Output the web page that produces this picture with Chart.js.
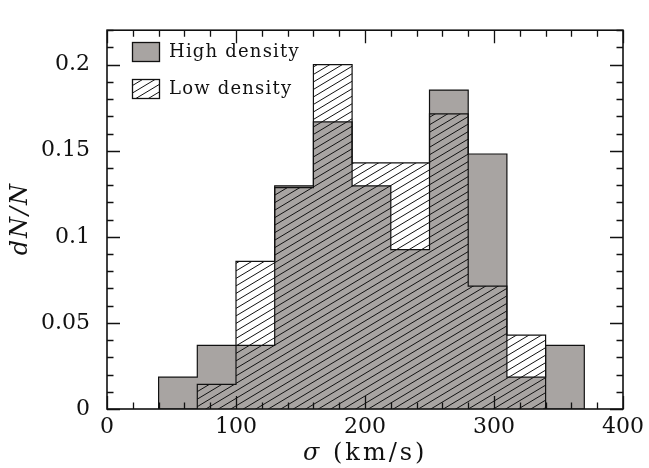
<!DOCTYPE html>
<html><head><meta charset="utf-8">
<script src="https://cdn.jsdelivr.net/npm/chart.js@4.4.1/dist/chart.umd.min.js"></script>
<style>html,body{margin:0;padding:0;background:#fff;}</style>
</head><body>
<canvas id="c" width="649" height="468"></canvas>
<script>
const binEdges = [40, 70, 100, 130, 160, 190, 220, 250, 280, 310, 340, 370];
const highDensity = [0.0185, 0.037, 0.037, 0.1296, 0.1667, 0.1296, 0.0926, 0.1852, 0.1481, 0.0185, 0.037];
const lowDensity = [0, 0.0143, 0.0857, 0.1286, 0.2, 0.1429, 0.1429, 0.1714, 0.0714, 0.0429, 0];
const seriesNames = ['High density', 'Low density'];
const xTickValues = [0, 100, 200, 300, 400];
const xTickLabels = ['0', '100', '200', '300', '400'];
const yTickValues = [0, 0.05, 0.1, 0.15, 0.2];
const yTickLabels = ['0', '0.05', '0.1', '0.15', '0.2'];
const xTitleSymbol = 'σ';
const xTitleUnit = '(km/s)';
const yTitle = 'dN/N';

const GRAY = 'rgb(168,164,162)';
const FONT = '"DejaVu Serif", serif';

function stepPoints(vals) {
  const pts = [{x: binEdges[0], y: 0}];
  vals.forEach((v, i) => pts.push({x: binEdges[i], y: v}));
  pts.push({x: binEdges[binEdges.length - 1], y: 0});
  return pts;
}

function makeHatch() {
  const w = 25, h = 15;
  const c = document.createElement('canvas');
  c.width = w; c.height = h;
  const g = c.getContext('2d');
  g.strokeStyle = '#111';
  g.lineWidth = 1;
  for (let k = -3; k <= 3; k++) {
    const off = k * 12.5;
    g.beginPath();
    g.moveTo(off - w, 2 * h);
    g.lineTo(off + 2 * w, -h);
    g.stroke();
  }
  return g.createPattern(c, 'repeat');
}
const hatch = makeHatch();

function setLS(ctx, v) { try { ctx.letterSpacing = v; } catch (e) {} }

const frameTicks = {
  id: 'frameTicks',
  afterDatasetsDraw(chart) {
    const ctx = chart.ctx, a = chart.chartArea;
    const xs = chart.scales.x, ys = chart.scales.y;
    ctx.save();
    ctx.strokeStyle = '#111';
    ctx.lineWidth = 1.3;
    for (let v = xs.min; v <= xs.max + 1e-9; v += 20) {
      const px = Math.round(xs.getPixelForValue(v)) + 0.5;
      const len = (Math.abs(v % 100) < 1e-9) ? 13 : 6.5;
      ctx.beginPath();
      ctx.moveTo(px, a.bottom); ctx.lineTo(px, a.bottom - len);
      ctx.moveTo(px, a.top); ctx.lineTo(px, a.top + len);
      ctx.stroke();
    }
    for (let i = 0; i <= 22; i++) {
      const v = i * 0.01;
      const py = Math.round(ys.getPixelForValue(v)) + 0.5;
      const len = (i % 5 === 0) ? 13 : 6.5;
      ctx.beginPath();
      ctx.moveTo(a.left, py); ctx.lineTo(a.left + len, py);
      ctx.moveTo(a.right, py); ctx.lineTo(a.right - len, py);
      ctx.stroke();
    }
    ctx.lineWidth = 1.6;
    ctx.strokeRect(a.left, a.top, a.right - a.left, a.bottom - a.top);

    // legend
    const sets = chart.data.datasets;
    const boxes = [[132, 42], [132, 79]];
    ctx.font = '18px ' + FONT;
    ctx.textBaseline = 'alphabetic';
    ctx.textAlign = 'left';
    setLS(ctx, '1.2px');
    sets.forEach((ds, i) => {
      const [bx, by] = boxes[i];
      ctx.fillStyle = ds.backgroundColor;
      ctx.fillRect(bx, by, 27, 19);
      ctx.lineWidth = 1.3;
      ctx.strokeStyle = '#111';
      ctx.strokeRect(bx + 0.5, by + 0.5, 27, 19);
      ctx.fillStyle = '#111';
      ctx.fillText(ds.label, 169, by + 15);
    });

    // x axis title
    ctx.fillStyle = '#111';
    ctx.textBaseline = 'alphabetic';
    ctx.textAlign = 'left';
    setLS(ctx, '0px');
    ctx.font = 'italic 24px ' + FONT;
    ctx.fillText(xTitleSymbol, 303, 460);
    setLS(ctx, '3px');
    ctx.font = '24px ' + FONT;
    ctx.fillText(xTitleUnit, 333, 460);

    // y axis title
    ctx.translate(27, (a.top + a.bottom) / 2);
    ctx.rotate(-Math.PI / 2);
    ctx.font = 'italic 24px ' + FONT;
    setLS(ctx, '2px');
    ctx.textAlign = 'center';
    ctx.textBaseline = 'alphabetic';
    ctx.fillText(yTitle, 1, 0);
    ctx.restore();
  }
};

new Chart(document.getElementById('c'), {
  type: 'line',
  data: {
    datasets: [
      {
        label: seriesNames[0],
        data: stepPoints(highDensity),
        stepped: 'before',
        fill: 'origin',
        backgroundColor: GRAY,
        borderColor: '#111',
        borderWidth: 1.2,
        pointRadius: 0,
        order: 2
      },
      {
        label: seriesNames[1],
        data: stepPoints(lowDensity),
        stepped: 'before',
        fill: 'origin',
        backgroundColor: hatch,
        borderColor: '#111',
        borderWidth: 1.2,
        pointRadius: 0,
        order: 1
      }
    ]
  },
  options: {
    responsive: false,
    animation: false,
    devicePixelRatio: 1,
    layout: {padding: {top: 6, right: 25, left: 0, bottom: 0}},
    plugins: {legend: {display: false}, tooltip: {enabled: false}},
    scales: {
      x: {
        type: 'linear', min: 0, max: 400,
        grid: {display: false, drawTicks: false},
        border: {display: false},
        afterBuildTicks: s => { s.ticks = xTickValues.map(v => ({value: v})); },
        afterFit: s => { s.height = 59; },
        ticks: {
          padding: 5,
          maxRotation: 0,
          autoSkip: false,
          color: '#111',
          font: {family: FONT, size: 22},
          callback: (v) => xTickLabels[xTickValues.indexOf(v)]
        }
      },
      y: {
        type: 'linear', min: 0, max: 0.22,
        grid: {display: false, drawTicks: false},
        border: {display: false},
        afterBuildTicks: s => { s.ticks = yTickValues.map(v => ({value: v})); },
        afterFit: s => { s.width = 107; },
        ticks: {
          padding: 17,
          autoSkip: false,
          color: '#111',
          font: {family: FONT, size: 22},
          callback: (v) => yTickLabels[yTickValues.indexOf(v)]
        }
      }
    }
  },
  plugins: [frameTicks]
});
</script>
</body></html>
